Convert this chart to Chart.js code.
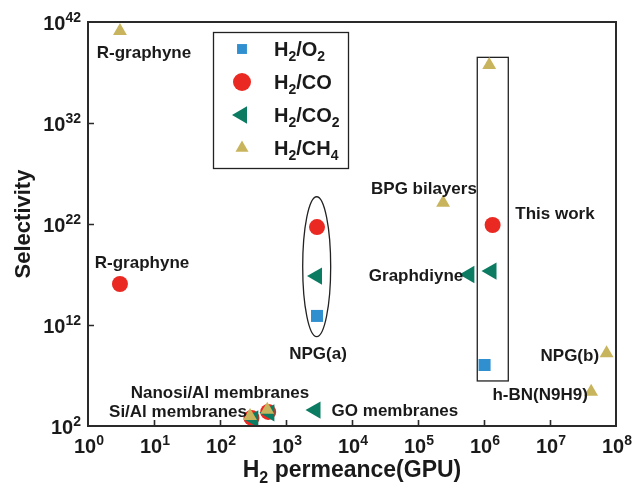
<!DOCTYPE html>
<html>
<head>
<meta charset="utf-8">
<script src="https://cdn.jsdelivr.net/npm/chart.js@4/dist/chart.umd.min.js"></script>
<style>
  html, body { margin: 0; padding: 0; background: #fff; }
  #wrap { width: 635px; height: 491px; }
</style>
</head>
<body>
<div id="wrap"><canvas id="c" width="635" height="491"></canvas></div>
<script>
// H2 permeance (GPU) and selectivity for each gas pair
const seriesNames = ['H2/O2', 'H2/CO', 'H2/CO2', 'H2/CH4'];

const o2Perm  = [2950, 1.02e6];
const o2Sel   = [7.9e12, 1.1e8];

const coPerm  = [3.05, 2950, 1.35e6, 300, 537];
const coSel   = [1.15e16, 5e21, 8e21, 630, 2500];

const co2Perm = [2950, 1.3e6, 6e5, 2800, 320, 560];
const co2Sel  = [7e16, 2.2e17, 1e17, 3800, 500, 2000];

const ch4Perm = [3.05, 1.2e6, 2.4e5, 7.2e7, 4.2e7, 285, 520];
const ch4Sel  = [1.3e41, 5.5e37, 1.26e24, 1.6e9, 2.5e5, 1000, 4000];

// decade exponents used for the tick labels
const xTickExps = [0, 1, 2, 3, 4, 5, 6, 7, 8];
const yTickExps = [2, 12, 22, 32, 42];

// material names, anchored in log10 data units
const notes = [
  { text: 'R-graphyne',          lx: 0.848, ly: 39.03 },
  { text: 'R-graphyne',          lx: 0.818, ly: 18.24 },
  { text: 'NPG(a)',              lx: 3.485, ly: 9.23 },
  { text: 'BPG bilayers',        lx: 5.09,  ly: 25.56 },
  { text: 'This work',           lx: 7.076, ly: 23.09 },
  { text: 'Graphdiyne',          lx: 4.97,  ly: 16.95 },
  { text: 'NPG(b)',              lx: 7.30,  ly: 9.03 },
  { text: 'h-BN(N9H9)',          lx: 6.85,  ly: 5.17 },
  { text: 'Nanosi/Al membranes', lx: 2.0,   ly: 5.37 },
  { text: 'Si/Al membranes',     lx: 1.364, ly: 3.49 },
  { text: 'GO membranes',        lx: 4.65,  ly: 3.58 }
];

// outlines grouping the NPG(a) results and the results of this work (log10 units)
const npgEllipse  = { lx0: 3.253, lx1: 3.677, ly0: 10.84, ly1: 24.7 };
const thisWorkBox = { lx0: 5.898, lx1: 6.368, ly0: 6.46,  ly1: 38.5 };

const colors = ['#2f8fcf', '#ea2a22', '#0b7b62', '#c8b45c'];
const styles = [
  { pointStyle: 'rect',     radius: 8.5, rotation: 0,   legendRadius: 7 },
  { pointStyle: 'circle',   radius: 8,   rotation: 0,   legendRadius: 9 },
  { pointStyle: 'triangle', radius: 10,  rotation: -90, legendRadius: 10 },
  { pointStyle: 'triangle', radius: 8,   rotation: 0,   legendRadius: 7.5 }
];

const FONT = '"Liberation Sans", Arial, Helvetica, sans-serif';
const INK = '#1a1a1a';

function pts(xs, ys) { return xs.map((v, i) => ({ x: v, y: ys[i] })); }
const seriesData = [pts(o2Perm, o2Sel), pts(coPerm, coSel), pts(co2Perm, co2Sel), pts(ch4Perm, ch4Sel)];

// rich text: runs of {t, size, dy}
function runWidth(ctx, runs) {
  let w = 0;
  for (const r of runs) { ctx.font = 'bold ' + r.size + 'px ' + FONT; w += ctx.measureText(r.t).width; }
  return w;
}
function drawRuns(ctx, runs, x, y, align) {
  const w = runWidth(ctx, runs);
  let cx = align === 'center' ? x - w / 2 : align === 'right' ? x - w : x;
  ctx.textAlign = 'left';
  ctx.textBaseline = 'alphabetic';
  for (const r of runs) {
    ctx.font = 'bold ' + r.size + 'px ' + FONT;
    ctx.fillText(r.t, cx, y + r.dy);
    cx += ctx.measureText(r.t).width;
  }
}
// chemical formula: digits after a letter become subscripts
function formulaRuns(str, size, subSize, subDy) {
  const runs = [];
  const re = /(\d+)|([^\d]+)/g;
  let m;
  while ((m = re.exec(str))) {
    if (m[1]) runs.push({ t: m[1], size: subSize, dy: subDy });
    else runs.push({ t: m[2], size: size, dy: 0 });
  }
  return runs;
}
function powerRuns(exp) {
  return [{ t: '10', size: 20, dy: 0 }, { t: String(exp), size: 14, dy: -8 }];
}

function drawMarker(ctx, st, color, x, y, r) {
  ctx.save();
  ctx.fillStyle = color;
  ctx.beginPath();
  if (st.pointStyle === 'rect') {
    const s = Math.SQRT1_2 * r;
    ctx.rect(x - s, y - s, 2 * s, 2 * s);
  } else if (st.pointStyle === 'circle') {
    ctx.arc(x, y, r, 0, Math.PI * 2);
  } else {
    let rad = st.rotation * Math.PI / 180;
    for (let k = 0; k < 3; k++) {
      const px = x + Math.sin(rad) * r, py = y - Math.cos(rad) * r;
      if (k === 0) ctx.moveTo(px, py); else ctx.lineTo(px, py);
      rad += 2 * Math.PI / 3;
    }
    ctx.closePath();
  }
  ctx.fill();
  ctx.restore();
}

const decor = {
  id: 'decor',
  beforeDatasetsDraw(chart) {
    const { ctx, scales: { x, y } } = chart;
    ctx.save();
    ctx.strokeStyle = '#222';
    ctx.lineWidth = 1.3;
    // ellipse around NPG(a)
    const ex0 = x.getPixelForValue(10 ** npgEllipse.lx0), ex1 = x.getPixelForValue(10 ** npgEllipse.lx1);
    const ey0 = y.getPixelForValue(10 ** npgEllipse.ly0), ey1 = y.getPixelForValue(10 ** npgEllipse.ly1);
    ctx.beginPath();
    ctx.ellipse((ex0 + ex1) / 2, (ey0 + ey1) / 2, Math.abs(ex1 - ex0) / 2, Math.abs(ey1 - ey0) / 2, 0, 0, Math.PI * 2);
    ctx.stroke();
    // box around this work
    const bx0 = x.getPixelForValue(10 ** thisWorkBox.lx0), bx1 = x.getPixelForValue(10 ** thisWorkBox.lx1);
    const by0 = y.getPixelForValue(10 ** thisWorkBox.ly0), by1 = y.getPixelForValue(10 ** thisWorkBox.ly1);
    ctx.strokeRect(bx0, by1, bx1 - bx0, by0 - by1);
    ctx.restore();
  },
  afterDraw(chart) {
    const { ctx, chartArea: a, scales: { x, y } } = chart;
    ctx.save();
    // frame
    ctx.strokeStyle = '#2a2a2a';
    ctx.lineWidth = 2;
    ctx.strokeRect(a.left, a.top, a.right - a.left, a.bottom - a.top);
    // inward tick marks
    ctx.lineWidth = 1.6;
    ctx.beginPath();
    for (const e of xTickExps.slice(1, -1)) {
      const px = Math.round(x.getPixelForValue(10 ** e)) + 0.5;
      ctx.moveTo(px, a.bottom); ctx.lineTo(px, a.bottom - 6);
    }
    for (const e of yTickExps.slice(1, -1)) {
      const py = Math.round(y.getPixelForValue(10 ** e)) + 0.5;
      ctx.moveTo(a.left, py); ctx.lineTo(a.left + 6, py);
    }
    ctx.stroke();

    ctx.fillStyle = INK;
    // tick labels
    for (const e of xTickExps) {
      drawRuns(ctx, powerRuns(e), x.getPixelForValue(10 ** e) + 1, a.bottom + 27, 'center');
    }
    for (const e of yTickExps) {
      drawRuns(ctx, powerRuns(e), a.left - 7, y.getPixelForValue(10 ** e) + 8, 'right');
    }
    // axis titles
    drawRuns(ctx, formulaRuns('H2 permeance(GPU)', 23, 16, 6), (a.left + a.right) / 2, 477, 'center');
    ctx.save();
    ctx.translate(30, (a.top + a.bottom) / 2);
    ctx.rotate(-Math.PI / 2);
    drawRuns(ctx, [{ t: 'Selectivity', size: 22, dy: 0 }], 0, 0, 'center');
    ctx.restore();

    // material names
    for (const n of notes) {
      const px = x.getPixelForValue(10 ** n.lx), py = y.getPixelForValue(10 ** n.ly);
      drawRuns(ctx, [{ t: n.text, size: 17, dy: 0 }], px, py + 6, 'center');
    }

    // legend
    ctx.strokeStyle = '#222';
    ctx.lineWidth = 1.3;
    ctx.strokeRect(213.5, 32.5, 135, 136);
    seriesNames.forEach((name, i) => {
      const ry = 49 + i * 33;
      drawMarker(ctx, styles[i], colors[i], 242, ry, styles[i].legendRadius);
      ctx.fillStyle = INK;
      drawRuns(ctx, formulaRuns(name, 20, 14, 5), 274, ry + 7, 'left');
    });
    ctx.restore();
  }
};

new Chart(document.getElementById('c'), {
  type: 'scatter',
  data: {
    datasets: seriesNames.map((name, i) => ({
      label: name,
      data: seriesData[i],
      order: seriesNames.length - i, // later gas pairs are drawn on top
      backgroundColor: colors[i],
      borderColor: colors[i],
      pointStyle: styles[i].pointStyle,
      pointRadius: styles[i].radius,
      pointHoverRadius: styles[i].radius,
      pointRotation: styles[i].rotation,
      pointBorderWidth: 0,
      showLine: false
    }))
  },
  options: {
    responsive: false,
    animation: false,
    devicePixelRatio: 1,
    layout: { padding: { left: 88, top: 22, right: 19, bottom: 65 } },
    plugins: { legend: { display: false }, tooltip: { enabled: false } },
    scales: {
      x: { type: 'logarithmic', min: 1, max: 1e8, display: false },
      y: { type: 'logarithmic', min: 1e2, max: 1e42, display: false }
    }
  },
  plugins: [decor]
});
</script>
</body>
</html>
